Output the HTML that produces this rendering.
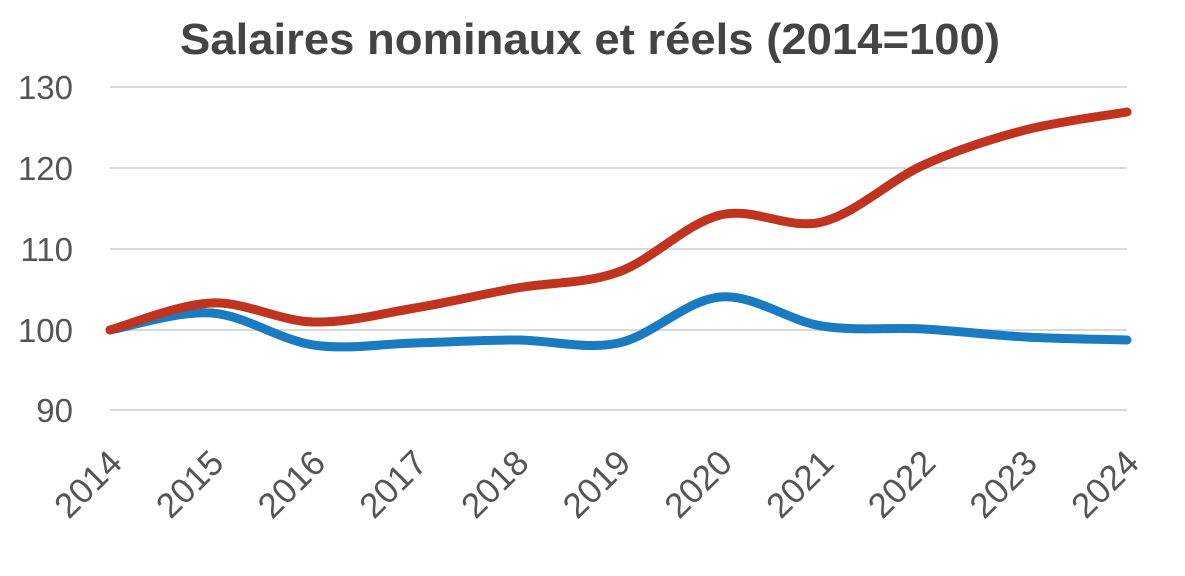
<!DOCTYPE html>
<html><head><meta charset="utf-8"><style>
body{margin:0;background:#fff;}
svg{display:block;font-family:"Liberation Sans",sans-serif;}
</style></head><body>
<svg id="s" width="1185" height="576" viewBox="0 0 1185 576">
<text x="590" y="54" text-anchor="middle" font-size="44" font-weight="bold" fill="#444" textLength="820" lengthAdjust="spacingAndGlyphs">Salaires nominaux et réels (2014=100)</text>
<g stroke="#d9d9d9" stroke-width="2">
<line x1="110" x2="1127" y1="87" y2="87"/><line x1="110" x2="1127" y1="168" y2="168"/>
<line x1="110" x2="1127" y1="249" y2="249"/><line x1="110" x2="1127" y1="330" y2="330"/>
<line x1="110" x2="1127" y1="410" y2="410"/>
</g>
<g font-size="33" fill="#555" text-anchor="end">
<text x="73" y="99">130</text><text x="73" y="180">120</text><text x="73" y="261">110</text>
<text x="73" y="342">100</text><text x="73" y="422">90</text>
</g>
<g id="xl" font-size="35" fill="#555" text-anchor="end"></g>
<path id="blue" fill="none" stroke="#1b7bc0" stroke-width="9" stroke-linecap="round"/>
<path id="red" fill="none" stroke="#c0331f" stroke-width="9" stroke-linecap="round"/>
</svg>
<script>
var xs=[];for(var i=0;i<11;i++)xs.push(110+i*101.7);
function path(ys){var p=xs.map(function(x,i){return [x,ys[i]];});var d="M"+p[0][0]+","+p[0][1];
for(var i=0;i<p.length-1;i++){var p0=p[i-1]||p[i],p1=p[i],p2=p[i+1],p3=p[i+2]||p[i+1];
var c1=[p1[0]+(p2[0]-p0[0])/6,p1[1]+(p2[1]-p0[1])/6],c2=[p2[0]-(p3[0]-p1[0])/6,p2[1]-(p3[1]-p1[1])/6];
d+=" C"+c1+" "+c2+" "+p2;}return d;}
document.getElementById("red").setAttribute("d",path([330,303,322,308,288,272,215,222,165,130,112]));
document.getElementById("blue").setAttribute("d",path([330,313,345,343,340,343,297,326,329,337,340]));
var g=document.getElementById("xl"),h="";
for(var i=0;i<11;i++){var x=xs[i]+14,y=465;h+='<text x="'+x+'" y="'+y+'" transform="rotate(-45 '+x+' '+y+')">'+(2014+i)+'</text>';}
g.innerHTML=h;
</script>
</body></html>
